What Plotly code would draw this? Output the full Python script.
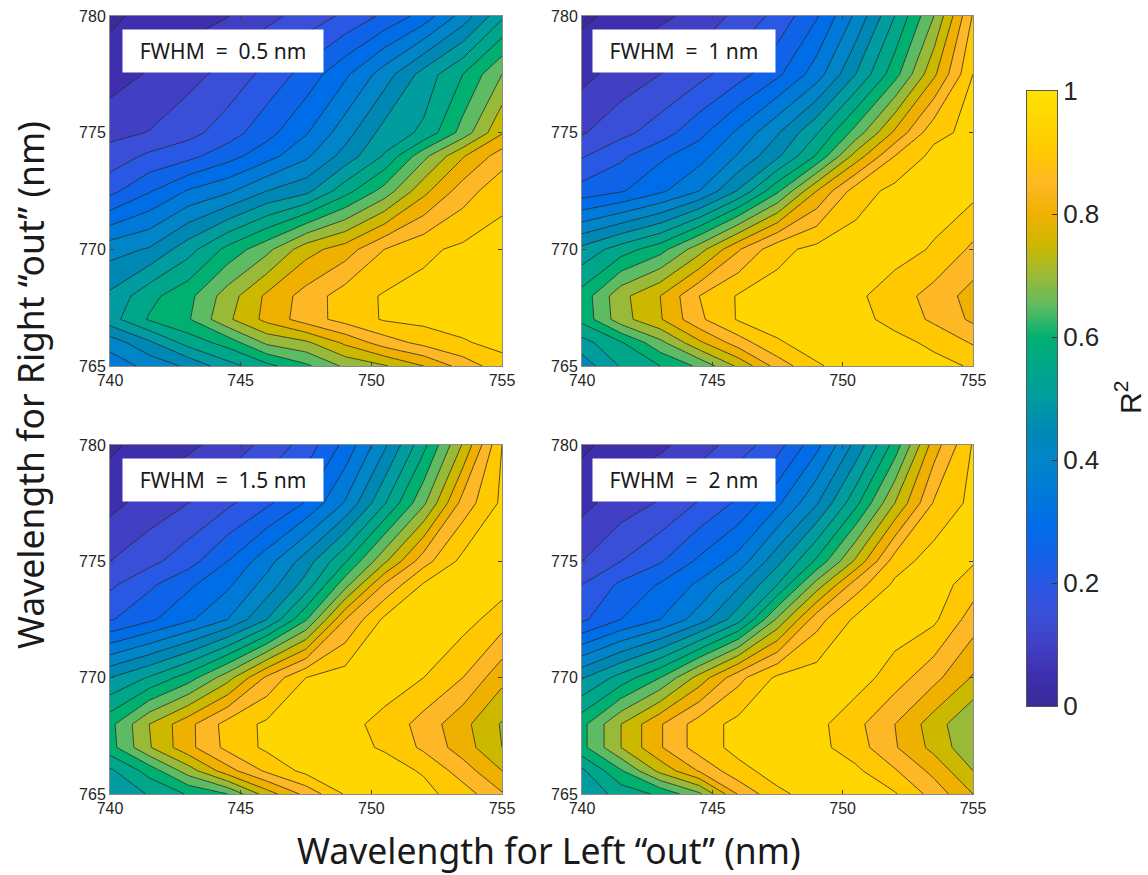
import plotly.graph_objects as go

W, H = 1148, 875

x_left_nm = [740, 741.5, 743, 744.5, 746, 747.5, 749, 750.5, 752, 753.5, 755]
y_right_nm = [765, 766, 767, 768, 770, 772.5, 774, 775, 777.5, 780]

r2_fwhm_05 = [
    [.37, .415, .46, .53, .585, .64, .71, .745, .80, .87, .93],
    [.42, .49, .57, .62, .71, .74, .81, .875, .915, .945, .965],
    [.53, .605, .645, .74, .815, .875, .92, .955, .965, .97, .975],
    [.51, .585, .635, .725, .81, .87, .925, .955, .965, .975, .98],
    [.43, .455, .53, .615, .685, .78, .825, .90, .94, .96, .97],
    [.235, .295, .355, .39, .45, .485, .58, .67, .785, .875, .935],
    [.17, .21, .235, .28, .33, .39, .47, .555, .685, .795, .875],
    [.136, .152, .183, .225, .282, .345, .428, .52, .56, .67, .795],
    [.075, .105, .133, .167, .215, .27, .34, .425, .52, .60, .70],
    [.04, .065, .08, .098, .135, .17, .21, .26, .32, .42, .54],
]
r2_fwhm_10 = [
    [.47, .555, .60, .66, .76, .87, .945, .97, .97, .965, .945],
    [.53, .595, .685, .79, .875, .945, .97, .975, .965, .94, .895],
    [.615, .73, .795, .89, .955, .97, .975, .965, .935, .89, .84],
    [.62, .735, .80, .90, .955, .97, .975, .96, .925, .88, .83],
    [.515, .575, .63, .73, .845, .935, .965, .975, .97, .945, .89],
    [.27, .295, .34, .40, .505, .64, .80, .925, .965, .975, .965],
    [.195, .24, .29, .33, .405, .49, .605, .77, .90, .965, .97],
    [.145, .185, .225, .285, .36, .445, .545, .67, .81, .935, .965],
    [.085, .12, .15, .185, .23, .29, .375, .50, .63, .79, .95],
    [.04, .065, .09, .115, .165, .215, .295, .41, .55, .70, .905],
]
r2_fwhm_15 = [
    [.50, .555, .605, .65, .775, .865, .955, .975, .965, .925, .855],
    [.54, .62, .725, .83, .91, .965, .975, .97, .945, .875, .80],
    [.63, .745, .835, .915, .96, .975, .965, .945, .89, .825, .75],
    [.635, .75, .835, .92, .96, .975, .965, .935, .88, .815, .745],
    [.50, .555, .625, .73, .86, .95, .975, .975, .95, .90, .815],
    [.245, .29, .34, .40, .50, .645, .85, .96, .975, .97, .925],
    [.19, .24, .29, .34, .42, .52, .68, .855, .955, .975, .97],
    [.15, .185, .23, .30, .38, .475, .595, .74, .88, .965, .975],
    [.085, .12, .15, .19, .24, .305, .405, .545, .69, .87, .96],
    [.04, .07, .09, .12, .165, .22, .315, .44, .585, .755, .95],
]
r2_fwhm_20 = [
    [.51, .57, .61, .69, .855, .94, .97, .97, .955, .88, .80],
    [.54, .645, .765, .855, .935, .97, .975, .96, .905, .835, .75],
    [.635, .75, .845, .925, .965, .975, .965, .925, .855, .785, .71],
    [.635, .75, .845, .925, .965, .975, .965, .915, .85, .775, .70],
    [.495, .57, .65, .77, .885, .96, .975, .975, .925, .865, .795],
    [.24, .30, .35, .425, .53, .71, .88, .96, .98, .96, .875],
    [.20, .26, .305, .36, .44, .55, .72, .875, .96, .975, .925],
    [.15, .20, .245, .31, .37, .485, .61, .76, .925, .975, .955],
    [.085, .125, .155, .205, .26, .34, .445, .585, .75, .905, .965],
    [.04, .07, .09, .125, .175, .23, .335, .465, .62, .825, .955],
]
panel_labels = ["FWHM  =  0.5 nm", "FWHM  =  1 nm", "FWHM  =  1.5 nm", "FWHM  =  2 nm"]
x_ticks = [740, 745, 750, 755]
y_ticks = [765, 770, 775, 780]
cbar_ticks = [0, 0.2, 0.4, 0.6, 0.8, 1]
cbar_tick_labels = ["0", "0.2", "0.4", "0.6", "0.8", "1"]

stops = [
    (0.00, "#3B2A98"), (0.05, "#3D2FAE"), (0.10, "#4140C4"), (0.15, "#3A4FD8"),
    (0.20, "#2858E4"), (0.25, "#0F63E8"), (0.30, "#006DE8"), (0.35, "#007AD8"),
    (0.40, "#0085C8"), (0.45, "#0088B4"), (0.50, "#009CA0"), (0.55, "#00A68A"),
    (0.60, "#00B070"), (0.65, "#5DBB63"), (0.70, "#98BA38"), (0.75, "#CDB800"),
    (0.80, "#F0B000"), (0.85, "#FFB825"), (0.90, "#FFC800"), (0.95, "#FFD600"),
    (1.00, "#FFE000"),
]
bar_scale = [[v, c] for v, c in stops]
bar_levels = [v for v, _ in stops]
# a filled band takes the colour of its lower level, as in the reference
band_scale = [[0, stops[0][1]]] + [[min(v + 0.025, 1), c] for v, c in stops[:-1]] + [[1, stops[-2][1]]]

boxes = [(110, 502, 16, 366), (582, 973, 16, 366), (110, 502, 445, 794), (582, 973, 445, 794)]
label_boxes = [(122, 29, 198), (592, 29, 180), (122, 458, 198), (592, 458, 180)]
series = [r2_fwhm_05, r2_fwhm_10, r2_fwhm_15, r2_fwhm_20]

fig = go.Figure()
layout = dict(
    width=W, height=H, margin=dict(l=0, r=0, t=0, b=0, autoexpand=False), autosize=False,
    paper_bgcolor="white", plot_bgcolor="white", showlegend=False,
    font=dict(family="Liberation Sans, Arial, sans-serif", color="#262626"),
)
annotations = []
for i, (z, box, lb, text) in enumerate(zip(series, boxes, label_boxes, panel_labels)):
    sfx = "" if i == 0 else str(i + 1)
    l, r, t, b = box
    fig.add_trace(go.Contour(
        x=x_left_nm, y=y_right_nm, z=z, xaxis="x" + sfx, yaxis="y" + sfx,
        zmin=0, zmax=1, zauto=False, colorscale=band_scale, showscale=False,
        autocontour=False, contours=dict(start=0, end=1, size=0.05, coloring="fill"),
        line=dict(color="#2a2a2a", width=0.8, smoothing=0), hoverinfo="skip",
    ))
    axis = dict(ticks="inside", ticklen=4, tickwidth=1, tickcolor="#444", showline=True,
                linecolor="#8a8a8a", linewidth=1, mirror="allticks", showgrid=False,
                zeroline=False, tickfont=dict(size=16, color="#262626"))
    layout["xaxis" + sfx] = dict(axis, domain=[l / W, r / W], range=[740, 755], tickvals=x_ticks,
                                 anchor="y" + sfx)
    layout["yaxis" + sfx] = dict(axis, domain=[1 - b / H, 1 - t / H], range=[765, 780], tickvals=y_ticks,
                                 anchor="x" + sfx)
    annotations.append(dict(
        xref="paper", yref="paper", x=lb[0] / W, y=1 - lb[1] / H, xanchor="left", yanchor="top",
        width=lb[2], height=40, bgcolor="white", text=text, showarrow=False, align="center",
        font=dict(family="Noto Sans", size=21, color="#1a1a1a"),
    ))

# colour bar as a continuous ramp on its own small axes
fig.add_trace(go.Heatmap(
    x=[0, 1], y=bar_levels, z=[[v, v] for v in bar_levels], xaxis="x5", yaxis="y5",
    zmin=0, zmax=1, colorscale=bar_scale, showscale=False, zsmooth="best", hoverinfo="skip",
))
layout["xaxis5"] = dict(domain=[1027 / W, 1057 / W], range=[0, 1], showticklabels=False, ticks="",
                        showline=True, linecolor="#555", linewidth=1, mirror=True, showgrid=False,
                        zeroline=False, anchor="y5")
layout["yaxis5"] = dict(domain=[1 - 706 / H, 1 - 91 / H], range=[0, 1], side="right", tickvals=cbar_ticks,
                        ticktext=cbar_tick_labels, ticks="inside", ticklen=5, tickcolor="#333",
                        tickfont=dict(size=26, color="#262626"), showline=True, linecolor="#555",
                        linewidth=1, mirror=True, showgrid=False, zeroline=False, anchor="x5")

annotations += [
    dict(xref="paper", yref="paper", x=549 / W, y=1 - 850 / H, text="Wavelength for Left “out” (nm)", showarrow=False,
         font=dict(family="Noto Sans", size=35.5, color="#1a1a1a"), xanchor="center", yanchor="middle"),
    dict(xref="paper", yref="paper", x=30 / W, y=1 - 385 / H, text="Wavelength for Right “out” (nm)", showarrow=False,
         textangle=-90, font=dict(family="Noto Sans", size=35.5, color="#1a1a1a"), xanchor="center", yanchor="middle"),
    dict(xref="paper", yref="paper", x=1128 / W, y=1 - 398 / H, text="R<sup>2</sup>", showarrow=False,
         textangle=-90, font=dict(family="Liberation Sans", size=30, color="#1a1a1a"), xanchor="center", yanchor="middle"),
]
layout["annotations"] = annotations
fig.update_layout(**layout)
fig.write_html("out.html", post_script="document.body.style.margin='0';", config={"displayModeBar": False})
